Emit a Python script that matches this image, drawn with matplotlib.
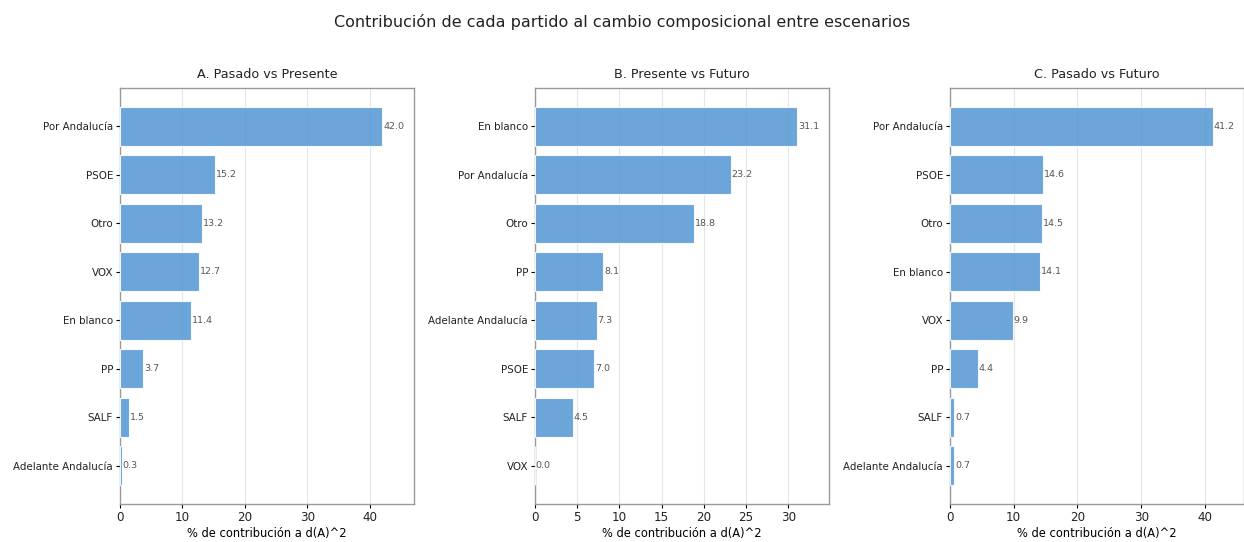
import matplotlib
matplotlib.use('Agg')
import matplotlib.pyplot as plt

# datos de cada panel (orden de arriba a abajo)
parties_a = ['Por Andalucía', 'PSOE', 'Otro', 'VOX', 'En blanco', 'PP', 'SALF', 'Adelante Andalucía']
values_a = [42.0, 15.2, 13.2, 12.7, 11.4, 3.7, 1.5, 0.3]

parties_b = ['En blanco', 'Por Andalucía', 'Otro', 'PP', 'Adelante Andalucía', 'PSOE', 'SALF', 'VOX']
values_b = [31.1, 23.2, 18.8, 8.1, 7.3, 7.0, 4.5, 0.0]

parties_c = ['Por Andalucía', 'PSOE', 'Otro', 'En blanco', 'VOX', 'PP', 'SALF', 'Adelante Andalucía']
values_c = [41.2, 14.6, 14.5, 14.1, 9.9, 4.4, 0.7, 0.7]

titles = ['A. Pasado vs Presente', 'B. Presente vs Futuro', 'C. Pasado vs Futuro']
panels = [(parties_a, values_a), (parties_b, values_b), (parties_c, values_c)]

plt.rcParams['text.color'] = '#222222'
plt.rcParams['xtick.labelcolor'] = '#222222'
plt.rcParams['ytick.labelcolor'] = '#222222'

fig = plt.figure(figsize=(12.44, 5.42), dpi=100)
fig.suptitle('Contribución de cada partido al cambio composicional entre escenarios',
             fontsize=11.5, y=0.975)

lefts = [120, 535, 950]
W, H = 1244, 542
for left, title, (names, vals) in zip(lefts, titles, panels):
    ax = fig.add_axes([left / W, 1 - 504 / H, 294 / W, (504 - 88) / H])
    ypos = list(range(len(names)))
    ax.barh(ypos, vals, height=0.8, color='#5b9bd5', alpha=0.9,
            edgecolor='white', linewidth=0.8, zorder=3)
    ax.set_yticks(ypos)
    ax.set_yticklabels(names, fontsize=7.4)
    ax.invert_yaxis()
    ax.set_xlim(0, max(vals) * 1.12)
    for y, v in zip(ypos, vals):
        ax.text(v + max(vals) * 0.003, y, f'{v:.1f}', va='center', ha='left',
                fontsize=6.8, color='#555555')
    ax.set_title(title, fontsize=9.2, pad=7)
    ax.set_xlabel('% de contribución a d(A)^2', fontsize=8.3, labelpad=2)
    ax.tick_params(axis='x', labelsize=8.6, length=3, pad=2)
    ax.tick_params(axis='y', length=3, pad=2)
    ax.grid(axis='x', color='#e6e6e6', linewidth=0.8, zorder=0)
    for s in ax.spines.values():
        s.set_color('#999999')
        s.set_linewidth(1.0)

fig.savefig('out.png', dpi=100, facecolor='white')
